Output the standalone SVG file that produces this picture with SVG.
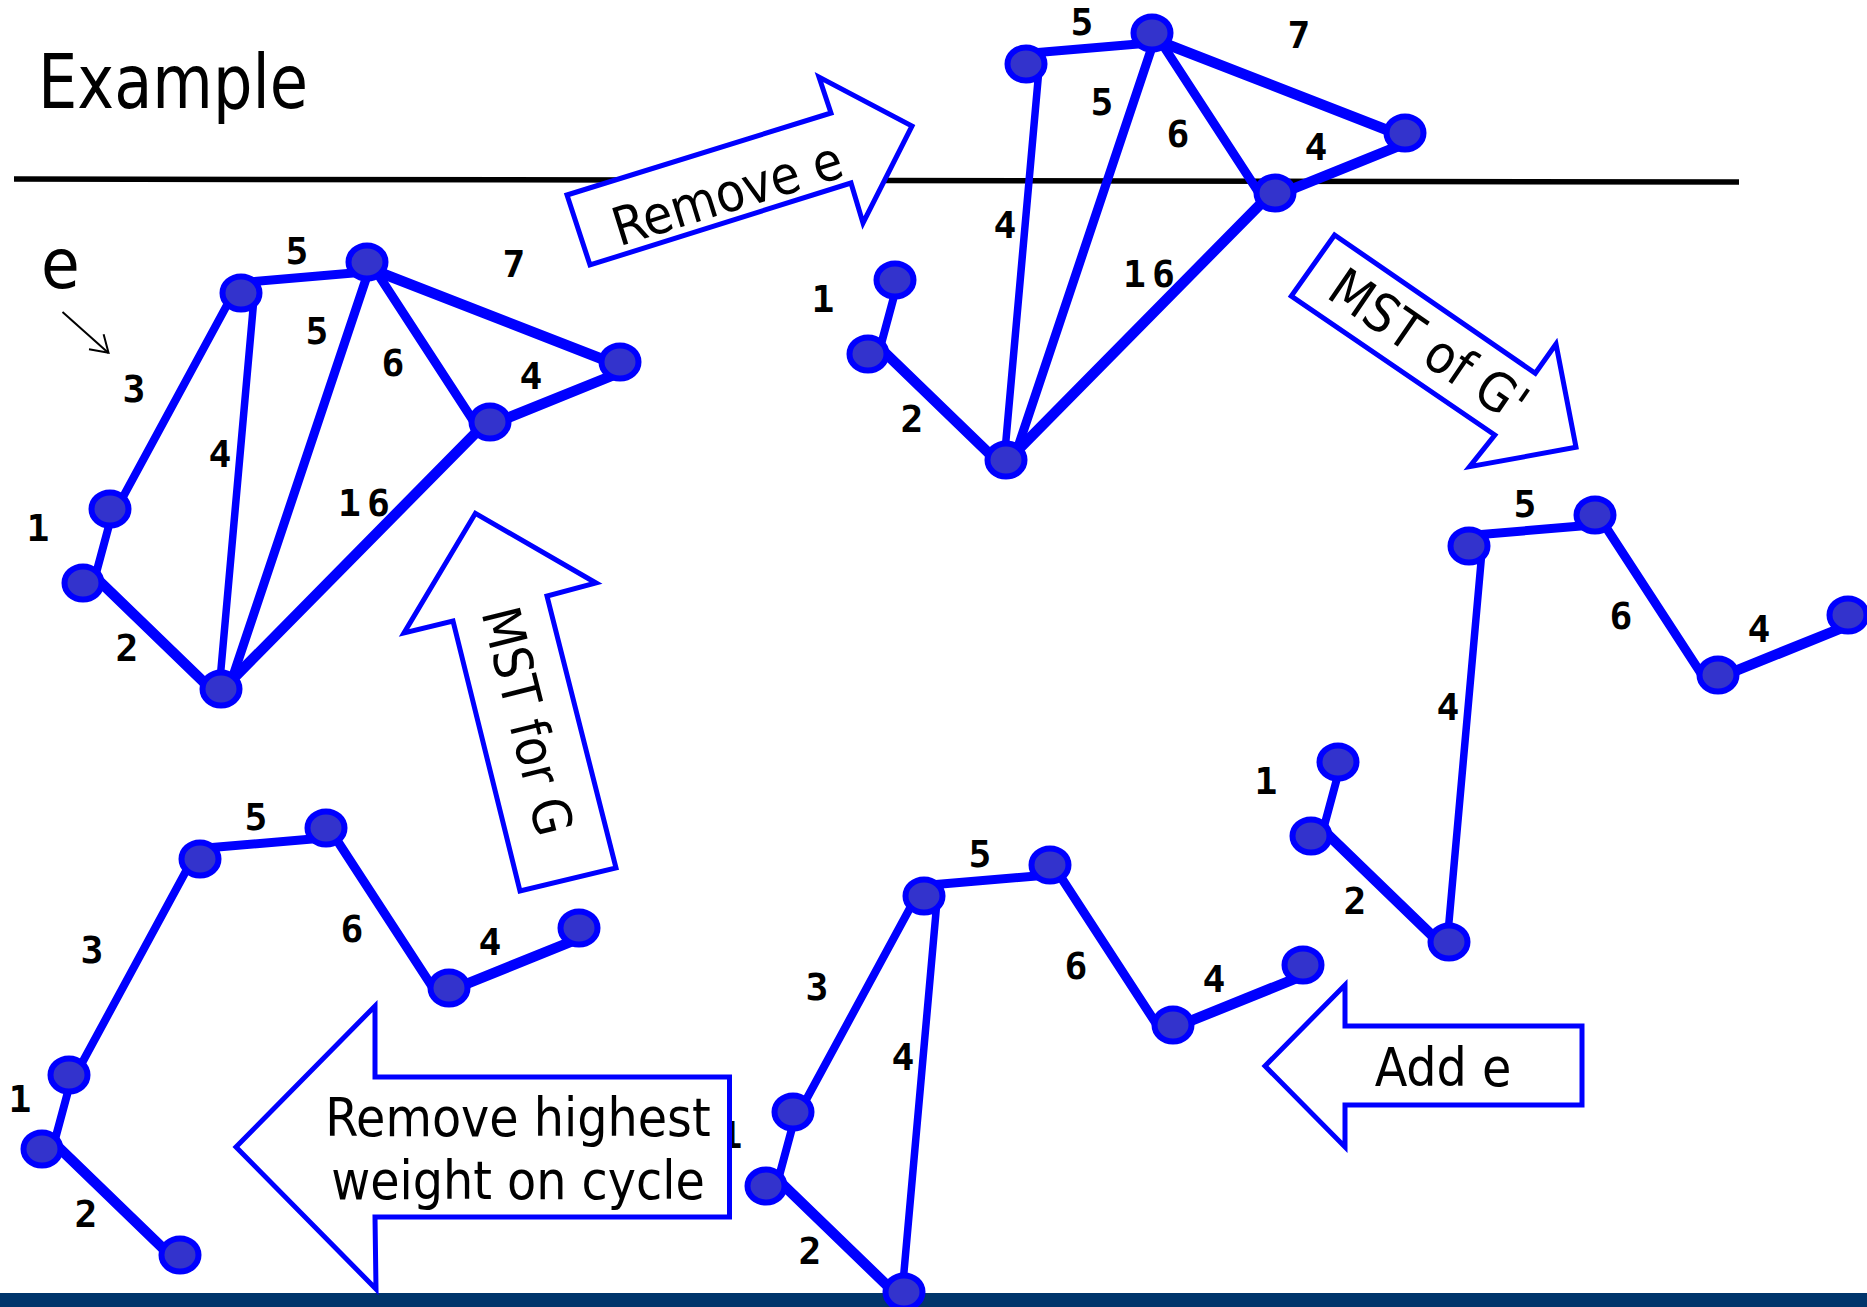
<svg xmlns="http://www.w3.org/2000/svg" xmlns:xlink="http://www.w3.org/1999/xlink" width="1867" height="1307" viewBox="0 0 1867 1307">
<style>
.ek{stroke:#0000ff;stroke-width:10.5;stroke-linecap:round}
.em{stroke:#0000ff;stroke-width:9;stroke-linecap:round}
.et{stroke:#0000ff;stroke-width:8;stroke-linecap:round}
.eh{stroke:#0000ff;stroke-width:7.5;stroke-linecap:round}
.nd{fill:#3333cc;stroke:#0000ff;stroke-width:6}
.lbl{font-family:"DejaVu Sans Mono","Liberation Mono",monospace;font-weight:bold;font-size:38px;text-anchor:middle;fill:#000}
.big{font-family:"DejaVu Sans Condensed","DejaVu Sans",sans-serif;font-stretch:condensed;fill:#000}
.arr{fill:#ffffff;stroke:#0000ff;stroke-width:5;stroke-linejoin:miter}
.at{font-size:53px;text-anchor:middle}
</style>
<defs>
<ellipse id="n" cx="0" cy="0" rx="18.5" ry="16.5" class="nd"/>
<line id="eAB" class="em" x1="241" y1="282.5" x2="365" y2="272"/>
<line id="eBC" class="ek" x1="367" y1="267.5" x2="620" y2="366"/>
<line id="eBD" class="em" x1="370" y1="262" x2="478" y2="428"/>
<line id="eCD" class="ek" x1="620" y1="372.5" x2="490" y2="425"/>
<line id="eDH" class="ek" x1="482" y1="426.5" x2="225" y2="687"/>
<line id="eBH" class="em" x1="369" y1="270" x2="230" y2="685"/>
<line id="eAH" class="eh" x1="254" y1="298" x2="220" y2="680"/>
<line id="eAE" class="et" x1="233" y1="294" x2="117" y2="508"/>
<line id="eEF" class="et" x1="111" y1="518" x2="94" y2="581"/>
<line id="eFH" class="ek" x1="92" y1="574" x2="214" y2="692"/>
</defs>
<rect x="0" y="0" width="1867" height="1307" fill="#ffffff"/>
<rect id="bar" x="0" y="1293" width="1867" height="14" fill="#00356b"/>
<line id="rule" x1="14" y1="179" x2="1739" y2="182" stroke="#000" stroke-width="5.5"/>
<text id="title" class="big" x="38" y="108" font-size="75" textLength="270" lengthAdjust="spacingAndGlyphs">Example</text>
<g id="e-marker">
<text class="big" x="41" y="288" font-size="70">e</text>
<line x1="62.5" y1="312" x2="108.5" y2="353" stroke="#000" stroke-width="2"/>
<polyline points="89,349.3 108.5,352.7 103.6,334.3" fill="none" stroke="#000" stroke-width="2"/>
</g>
<g id="connectors">
<g id="g1-edges">
<use xlink:href="#eAB"/><use xlink:href="#eBC"/><use xlink:href="#eBD"/><use xlink:href="#eCD"/><use xlink:href="#eDH"/>
<use xlink:href="#eBH"/><use xlink:href="#eAH"/><use xlink:href="#eAE"/><use xlink:href="#eEF"/><use xlink:href="#eFH"/>
</g>
<g id="g2-edges" transform="translate(785,-229)">
<use xlink:href="#eAB"/><use xlink:href="#eBC"/><use xlink:href="#eBD"/><use xlink:href="#eCD"/><use xlink:href="#eDH"/>
<use xlink:href="#eBH"/><use xlink:href="#eAH"/><use xlink:href="#eEF"/><use xlink:href="#eFH"/>
</g>
<g id="g3-edges" transform="translate(1228,253)">
<use xlink:href="#eAB"/><use xlink:href="#eBD"/><use xlink:href="#eCD"/><use xlink:href="#eAH"/><use xlink:href="#eEF"/><use xlink:href="#eFH"/>
</g>
<g id="g4-edges" transform="translate(683,603)">
<use xlink:href="#eAB"/><use xlink:href="#eBD"/><use xlink:href="#eCD"/><use xlink:href="#eAH"/><use xlink:href="#eAE"/><use xlink:href="#eEF"/><use xlink:href="#eFH"/>
</g>
<g id="g5-edges" transform="translate(-41,566)">
<use xlink:href="#eAB"/><use xlink:href="#eBD"/><use xlink:href="#eCD"/><use xlink:href="#eAE"/><use xlink:href="#eEF"/><use xlink:href="#eFH"/>
</g>
</g>
<g id="nodes">
<g id="g1-nodes">
<g id="g1-A"><use xlink:href="#n" x="241" y="293"/></g>
<g id="g1-B"><use xlink:href="#n" x="367" y="262"/></g>
<g id="g1-C"><use xlink:href="#n" x="620" y="362"/></g>
<g id="g1-D"><use xlink:href="#n" x="490" y="422"/></g>
<g id="g1-E"><use xlink:href="#n" x="110" y="509"/></g>
<g id="g1-F"><use xlink:href="#n" x="83" y="583"/></g>
<g id="g1-H"><use xlink:href="#n" x="221" y="689"/></g>
</g>
<g id="g2-nodes">
<g id="g2-A"><use xlink:href="#n" x="1026" y="64"/></g>
<g id="g2-B"><use xlink:href="#n" x="1152" y="33"/></g>
<g id="g2-C"><use xlink:href="#n" x="1405" y="133"/></g>
<g id="g2-D"><use xlink:href="#n" x="1275" y="193"/></g>
<g id="g2-E"><use xlink:href="#n" x="895" y="280"/></g>
<g id="g2-F"><use xlink:href="#n" x="868" y="354"/></g>
<g id="g2-H"><use xlink:href="#n" x="1006" y="460"/></g>
</g>
<g id="g3-nodes">
<g id="g3-A"><use xlink:href="#n" x="1469" y="546"/></g>
<g id="g3-B"><use xlink:href="#n" x="1595" y="515"/></g>
<g id="g3-C"><use xlink:href="#n" x="1848" y="615"/></g>
<g id="g3-D"><use xlink:href="#n" x="1718" y="675"/></g>
<g id="g3-E"><use xlink:href="#n" x="1338" y="762"/></g>
<g id="g3-F"><use xlink:href="#n" x="1311" y="836"/></g>
<g id="g3-H"><use xlink:href="#n" x="1449" y="942"/></g>
</g>
<g id="g4-nodes">
<g id="g4-A"><use xlink:href="#n" x="924" y="896"/></g>
<g id="g4-B"><use xlink:href="#n" x="1050" y="865"/></g>
<g id="g4-C"><use xlink:href="#n" x="1303" y="965"/></g>
<g id="g4-D"><use xlink:href="#n" x="1173" y="1025"/></g>
<g id="g4-E"><use xlink:href="#n" x="793" y="1112"/></g>
<g id="g4-F"><use xlink:href="#n" x="766" y="1186"/></g>
<g id="g4-H"><use xlink:href="#n" x="904" y="1292"/></g>
</g>
<g id="g5-nodes">
<g id="g5-A"><use xlink:href="#n" x="200" y="859"/></g>
<g id="g5-B"><use xlink:href="#n" x="326" y="828"/></g>
<g id="g5-C"><use xlink:href="#n" x="579" y="928"/></g>
<g id="g5-D"><use xlink:href="#n" x="449" y="988"/></g>
<g id="g5-E"><use xlink:href="#n" x="69" y="1075"/></g>
<g id="g5-F"><use xlink:href="#n" x="42" y="1149"/></g>
<g id="g5-H"><use xlink:href="#n" x="180" y="1255"/></g>
</g>
</g>
<g id="labels">
<text class="lbl" x="297" y="264">5</text>
<text class="lbl" x="514" y="277">7</text>
<text class="lbl" x="317" y="344">5</text>
<text class="lbl" x="393" y="376">6</text>
<text class="lbl" x="531" y="389">4</text>
<text class="lbl" x="134" y="402">3</text>
<text class="lbl" x="220" y="467">4</text>
<text class="lbl" x="367" y="516" letter-spacing="6">16</text>
<text class="lbl" x="38" y="541">1</text>
<text class="lbl" x="127" y="661">2</text>
<text class="lbl" x="1082" y="35">5</text>
<text class="lbl" x="1299" y="48">7</text>
<text class="lbl" x="1102" y="115">5</text>
<text class="lbl" x="1178" y="147">6</text>
<text class="lbl" x="1316" y="160">4</text>
<text class="lbl" x="1005" y="238">4</text>
<text class="lbl" x="1152" y="287" letter-spacing="6">16</text>
<text class="lbl" x="823" y="312">1</text>
<text class="lbl" x="912" y="432">2</text>
<text class="lbl" x="1525" y="517">5</text>
<text class="lbl" x="1621" y="629">6</text>
<text class="lbl" x="1759" y="642">4</text>
<text class="lbl" x="1448" y="720">4</text>
<text class="lbl" x="1266" y="794">1</text>
<text class="lbl" x="1355" y="914">2</text>
<text class="lbl" x="980" y="867">5</text>
<text class="lbl" x="1076" y="979">6</text>
<text class="lbl" x="1214" y="992">4</text>
<text class="lbl" x="817" y="1000">3</text>
<text class="lbl" x="903" y="1070">4</text>
<text class="lbl" x="731" y="1148">1</text>
<text class="lbl" x="810" y="1264">2</text>
<text class="lbl" x="256" y="830">5</text>
<text class="lbl" x="352" y="942">6</text>
<text class="lbl" x="490" y="955">4</text>
<text class="lbl" x="92" y="963">3</text>
<text class="lbl" x="20" y="1112">1</text>
<text class="lbl" x="86" y="1227">2</text>
</g>
<g id="arrow-remove-e">
<polygon class="arr" points="567,195 831,113 819,77 912,126 863,223 851,183 590,265"/>
<text class="big at" transform="translate(727,193) rotate(-17.3)" y="19">Remove e</text>
</g>
<g id="arrow-mst-g">
<polygon class="arr" points="475.4,513.3 596,583 547,596 616,868 520,891 453,621 404,633"/>
<text class="big at" transform="translate(528,721) rotate(76)" y="19">MST for G</text>
</g>
<g id="arrow-mst-gprime">
<polygon class="arr" points="1334.6,235 1535.3,373.3 1556,344 1576,447.3 1469.6,466.7 1494.8,435 1291.3,296"/>
<text class="big at" transform="translate(1429,345) rotate(34.5)" y="19">MST of G'</text>
</g>
<g id="arrow-add-e">
<polygon class="arr" points="1265,1066 1345,985 1345,1026 1582,1026 1582,1105 1345,1105 1345,1147"/>
<text class="big at" x="1443" y="1086">Add e</text>
</g>
<g id="arrow-remove-highest">
<polygon class="arr" points="236,1147 375,1006 375,1077 729.5,1077 729.5,1217 375,1217 376,1289"/>
<text class="big at" x="518" y="1136">Remove highest</text>
<text class="big at" x="518" y="1199">weight on cycle</text>
</g>
</svg>
